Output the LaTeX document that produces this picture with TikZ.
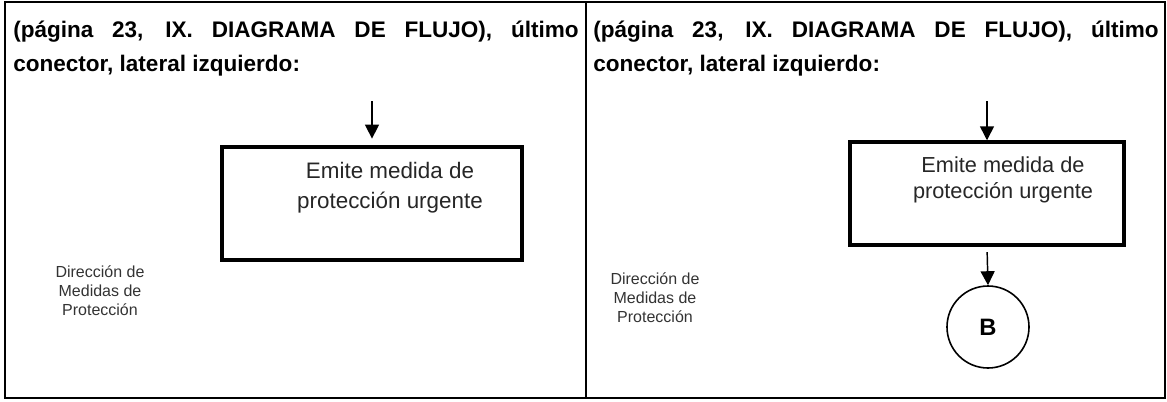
\documentclass[tikz,border=0pt]{standalone}
\usepackage{fontspec}
\setmainfont{Liberation Sans}
\usetikzlibrary{arrows.meta}

\begin{document}
\begin{tikzpicture}[x=0.75pt,y=-0.75pt,
    celda/.style={line width=1.9pt},
    titulo/.style={anchor=north west,inner sep=0pt,text width=424pt,align=justify,
        font=\bfseries\fontsize{16.9}{25.5}\selectfont},
    caja/.style={draw,line width=2.6pt,rectangle,inner sep=0pt},
    flecha/.style={line width=1.1pt,-{Triangle[width=10.5pt,length=10.5pt]}},
    lado/.style={align=center,inner sep=0pt,text=black!80,font=\fontsize{12}{14.3}\selectfont}]
    \useasboundingbox(0,0)rectangle(1167,401);

    % tabla
    \draw[celda](5,2)rectangle(1165,398);
    \draw[celda](586,2)--(586,398);

    \node[titulo](tituloA)at(13,21){(página 23, IX. DIAGRAMA DE FLUJO), último\linebreak conector, lateral izquierdo:};
    \node[titulo](tituloB)at(593,21){(página 23, IX. DIAGRAMA DE FLUJO), último\linebreak conector, lateral izquierdo:};

    % lado izquierdo
    \coordinate(entradaA)at(372,101);
    \node[caja,minimum width=225pt,minimum height=84.75pt](cajaA)at(372,203.5){};
    \node[align=center,inner sep=0pt,font=\fontsize{16.8}{22.5}\selectfont,text=black!85](textoA)at(390,188){Emite medida de\\protección urgente};
    \draw[flecha,shorten >=5pt](entradaA)--(cajaA.north);
    \node[lado](ladoA)at(100,291){Dirección de\\Medidas de\\Protección};

    % lado derecho
    \coordinate(entradaB)at(987,101);
    \node[caja,minimum width=205.5pt,minimum height=77.25pt](cajaB)at(987,193.5){};
    \node[align=center,inner sep=0pt,font=\fontsize{16.3}{19.5}\selectfont,text=black!85](textoB)at(1003,180){Emite medida de\\protección urgente};
    \node[draw,circle,line width=1.2pt,minimum size=61.5pt,inner sep=0pt,font=\bfseries\fontsize{17.8}{20}\selectfont](conectorB)at(988,327){B};
    \draw[flecha](entradaB)--(cajaB.north);
    \draw[flecha,shorten <=4pt](cajaB.south)--(conectorB.north);
    \node[lado](ladoB)at(655,298){Dirección de\\Medidas de\\Protección};
\end{tikzpicture}
\end{document}
